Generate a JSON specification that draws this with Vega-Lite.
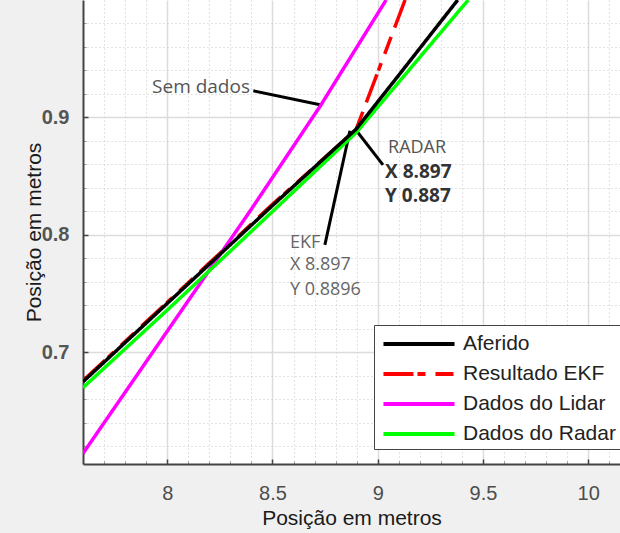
{
  "$schema": "https://vega.github.io/schema/vega-lite/v6.json",
  "width": 537,
  "height": 464,
  "autosize": {"type": "none"},
  "padding": {"left": 83, "top": 0, "right": 0, "bottom": 69},
  "background": "#f0f0f0",
  "config": {"view": {"stroke": null, "fill": "white"}, "font": "Liberation Sans"},
  "resolve": {"axis": {"x": "independent", "y": "independent"}},
  "datasets": {
    "lines": [
      {"series": "Resultado EKF", "x": 7.6, "y": 0.676},
      {"series": "Resultado EKF", "x": 7.9, "y": 0.726},
      {"series": "Resultado EKF", "x": 8.2, "y": 0.776},
      {"series": "Resultado EKF", "x": 8.5, "y": 0.826},
      {"series": "Resultado EKF", "x": 8.897, "y": 0.8896},
      {"series": "Resultado EKF", "x": 9.13, "y": 1.0},
      {"series": "Dados do Lidar", "x": 7.6, "y": 0.614},
      {"series": "Dados do Lidar", "x": 8.0, "y": 0.718},
      {"series": "Dados do Lidar", "x": 8.4, "y": 0.822},
      {"series": "Dados do Lidar", "x": 8.728, "y": 0.91},
      {"series": "Dados do Lidar", "x": 9.04, "y": 1.0},
      {"series": "Dados do Radar", "x": 7.6, "y": 0.67},
      {"series": "Dados do Radar", "x": 8.0, "y": 0.736},
      {"series": "Dados do Radar", "x": 8.4, "y": 0.803},
      {"series": "Dados do Radar", "x": 8.897, "y": 0.887},
      {"series": "Dados do Radar", "x": 9.43, "y": 1.0},
      {"series": "Aferido", "x": 7.6, "y": 0.675},
      {"series": "Aferido", "x": 7.9, "y": 0.725},
      {"series": "Aferido", "x": 8.2, "y": 0.775},
      {"series": "Aferido", "x": 8.5, "y": 0.825},
      {"series": "Aferido", "x": 8.897, "y": 0.89},
      {"series": "Aferido", "x": 9.1, "y": 0.936},
      {"series": "Aferido", "x": 9.38, "y": 1.0}
    ],
    "arrows": [
      {"x": 8.409, "y": 0.9227, "x2": 8.726, "y2": 0.9108},
      {"x": 8.892, "y": 0.8904, "x2": 9.025, "y2": 0.8597},
      {"x": 8.868, "y": 0.8887, "x2": 8.749, "y2": 0.7915}
    ],
    "notes": [
      {"kind": "sem", "label": "Sem dados", "x": 7.928, "y": 0.926},
      {"kind": "radar_t", "label": "RADAR", "x": 9.049, "y": 0.874},
      {"kind": "radar_v", "label": "X 8.897", "x": 9.035, "y": 0.8537},
      {"kind": "radar_v", "label": "Y 0.887", "x": 9.035, "y": 0.8335},
      {"kind": "ekf", "label": "EKF", "x": 8.583, "y": 0.7932},
      {"kind": "ekf", "label": "X 8.897", "x": 8.583, "y": 0.7744},
      {"kind": "ekf", "label": "Y 0.8896", "x": 8.583, "y": 0.7531}
    ]
  },
  "layer": [
    {
      "data": {"name": "arrows"},
      "mark": {"type": "rule", "color": "#000000", "strokeWidth": 3},
      "encoding": {
        "x": {
          "field": "x", "type": "quantitative",
          "scale": {"domain": [7.6, 10.151], "nice": false, "zero": false},
          "axis": {
            "orient": "bottom", "title": null, "labels": false, "domain": false,
            "values": [7.7, 7.8, 7.9, 8.1, 8.2, 8.3, 8.4, 8.6, 8.7, 8.8, 8.9, 9.1, 9.2, 9.3, 9.4, 9.6, 9.7, 9.8, 9.9, 10.1],
            "grid": true, "gridColor": "#c4c4c4", "gridDash": [1, 3], "gridWidth": 1,
            "ticks": true, "tickSize": -3, "tickColor": "#999999", "tickWidth": 1
          }
        },
        "y": {
          "field": "y", "type": "quantitative",
          "scale": {"domain": [0.605, 1.0], "nice": false, "zero": false},
          "axis": {
            "orient": "left", "title": null, "labels": false, "domain": false,
            "values": [0.62, 0.64, 0.66, 0.68, 0.72, 0.74, 0.76, 0.78, 0.82, 0.84, 0.86, 0.88, 0.92, 0.94, 0.96, 0.98],
            "grid": true, "gridColor": "#c4c4c4", "gridDash": [1, 3], "gridWidth": 1,
            "ticks": true, "tickSize": -3, "tickColor": "#999999", "tickWidth": 1
          }
        },
        "x2": {"field": "x2"},
        "y2": {"field": "y2"}
      }
    },
    {
      "data": {"name": "lines"},
      "mark": {"type": "line", "strokeWidth": 3.5, "clip": true},
      "encoding": {
        "x": {
          "field": "x", "type": "quantitative",
          "axis": {
            "orient": "bottom",
            "title": "Posição em metros",
            "values": [8, 8.5, 9, 9.5, 10],
            "format": "~g",
            "grid": true, "gridColor": "#dcdcdc", "gridWidth": 1.5,
            "tickSize": -5, "tickColor": "#444444", "tickWidth": 1.5,
            "domainColor": "#444", "domainWidth": 2,
            "labelFontSize": 20, "labelColor": "#4d4d4d", "labelPadding": 24,
            "labelOverlap": false, "labelFlush": false,
            "titleFontSize": 21, "titleColor": "#1a1a1a", "titleFontWeight": "normal", "titlePadding": 4
          }
        },
        "y": {
          "field": "y", "type": "quantitative",
          "axis": {
            "orient": "left",
            "title": "Posição em metros",
            "values": [0.7, 0.8, 0.9],
            "format": "~g",
            "grid": true, "gridColor": "#dcdcdc", "gridWidth": 1.5,
            "tickSize": -5, "tickColor": "#444444", "tickWidth": 1.5,
            "domainColor": "#444", "domainWidth": 2,
            "labelFontSize": 20, "labelFontWeight": "bold", "labelColor": "#555555", "labelPadding": 19,
            "labelOverlap": false, "labelFlush": false,
            "titleFontSize": 21, "titleColor": "#1a1a1a", "titleFontWeight": "normal", "titlePadding": -3
          }
        },
        "color": {
          "field": "series", "type": "nominal",
          "sort": ["Aferido", "Resultado EKF", "Dados do Lidar", "Dados do Radar"],
          "scale": {
            "domain": ["Aferido", "Resultado EKF", "Dados do Lidar", "Dados do Radar"],
            "range": ["#000000", "#ff0000", "#ff00ff", "#00ff00"]
          },
          "legend": {
            "orient": "none", "legendX": 291, "legendY": 325,
            "title": null,
            "symbolType": "M-2.96,0H2.96", "symbolSize": 576, "symbolStrokeWidth": 4,
            "symbolOffset": 26, "labelOffset": 30,
            "labelFont": "Liberation Sans", "labelFontSize": 21, "labelColor": "#222222",
            "rowPadding": 6, "padding": 5,
            "strokeColor": "#444444", "fillColor": "white"
          }
        },
        "strokeDash": {
          "field": "series", "type": "nominal",
          "sort": ["Aferido", "Resultado EKF", "Dados do Lidar", "Dados do Radar"],
          "scale": {
            "domain": ["Aferido", "Resultado EKF", "Dados do Lidar", "Dados do Radar"],
            "range": [[1, 0], [30, 4, 8, 10, 18, 10], [1, 0], [1, 0]]
          },
          "legend": {
            "orient": "none", "legendX": 291, "legendY": 325,
            "title": null,
            "symbolType": "M-2.96,0H2.96", "symbolSize": 576, "symbolStrokeWidth": 4,
            "symbolOffset": 26, "labelOffset": 30,
            "labelFont": "Liberation Sans", "labelFontSize": 21, "labelColor": "#222222",
            "rowPadding": 6, "padding": 5,
            "strokeColor": "#444444", "fillColor": "white"
          }
        }
      }
    },
    {
      "data": {"name": "notes"},
      "transform": [{"filter": "datum.kind === 'sem'"}],
      "mark": {"type": "text", "align": "left", "baseline": "middle", "font": "Open Sans", "fontSize": 19, "color": "#555555"},
      "encoding": {"x": {"field": "x", "type": "quantitative", "axis": null}, "y": {"field": "y", "type": "quantitative", "axis": null}, "text": {"field": "label"}}
    },
    {
      "data": {"name": "notes"},
      "transform": [{"filter": "datum.kind === 'radar_t'"}],
      "mark": {"type": "text", "align": "left", "baseline": "middle", "font": "Open Sans", "fontSize": 18, "color": "#555555"},
      "encoding": {"x": {"field": "x", "type": "quantitative", "axis": null}, "y": {"field": "y", "type": "quantitative", "axis": null}, "text": {"field": "label"}}
    },
    {
      "data": {"name": "notes"},
      "transform": [{"filter": "datum.kind === 'radar_v'"}],
      "mark": {"type": "text", "align": "left", "baseline": "middle", "font": "Open Sans", "fontSize": 19, "fontWeight": "bold", "color": "#333333"},
      "encoding": {"x": {"field": "x", "type": "quantitative", "axis": null}, "y": {"field": "y", "type": "quantitative", "axis": null}, "text": {"field": "label"}}
    },
    {
      "data": {"name": "notes"},
      "transform": [{"filter": "datum.kind === 'ekf'"}],
      "mark": {"type": "text", "align": "left", "baseline": "middle", "font": "Open Sans", "fontSize": 18, "color": "#666666"},
      "encoding": {"x": {"field": "x", "type": "quantitative", "axis": null}, "y": {"field": "y", "type": "quantitative", "axis": null}, "text": {"field": "label"}}
    }
  ]
}
